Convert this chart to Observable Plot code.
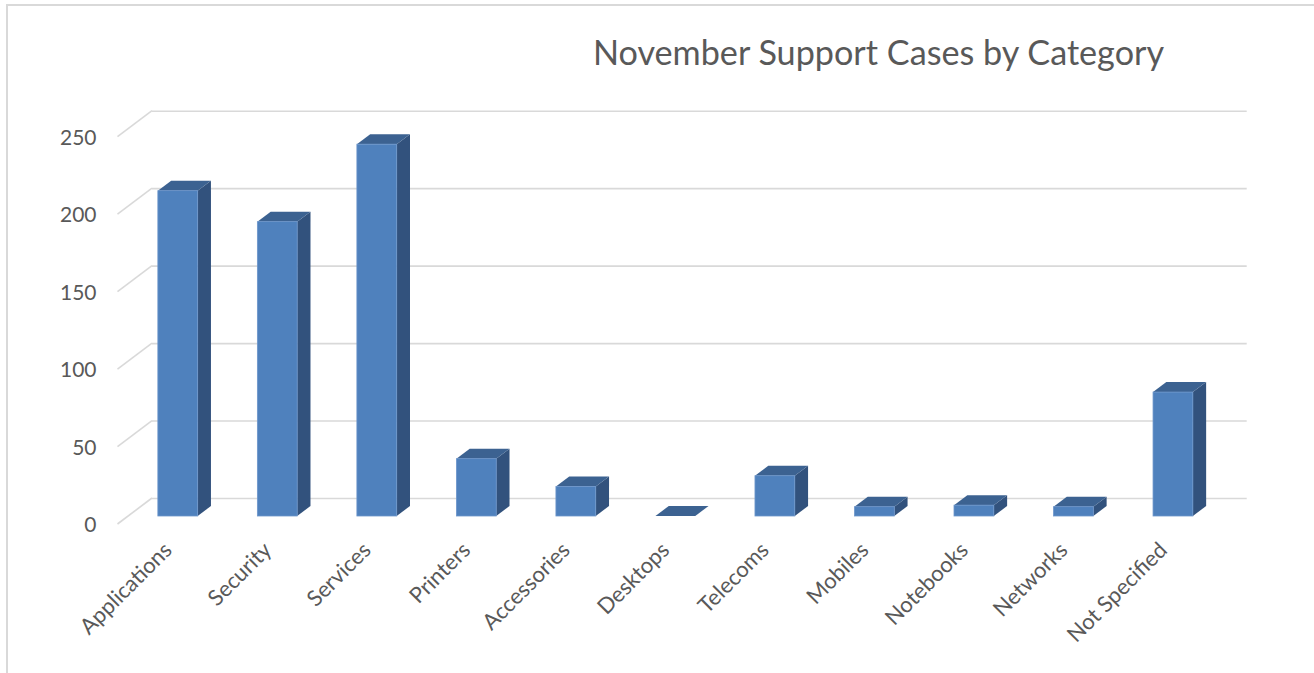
<!DOCTYPE html>
<html><head><meta charset="utf-8">
<script src="https://cdn.jsdelivr.net/npm/d3@7"></script>
<script src="https://cdn.jsdelivr.net/npm/@observablehq/plot@0.6"></script>
<style>
body{margin:0;background:#fff;overflow:hidden}
#wrap{position:relative;width:1314px;height:673px;overflow:hidden;font-family:Lato,"Open Sans",sans-serif}
#frame{position:absolute;left:6px;top:4px;width:1400px;height:800px;border-left:2px solid #d9d9d9;border-top:2px solid #d9d9d9;box-sizing:border-box}
#title{position:absolute;top:35px;left:878.5px;transform:translateX(-50%);white-space:nowrap;font-size:34.2px;line-height:34px;color:#595959;font-family:Lato,"Open Sans",sans-serif;font-weight:400}
#chart{position:absolute;left:0;top:0}
</style></head>
<body>
<div id="wrap"><div id="frame"></div><div id="chart"></div><div id="title">November Support Cases by Category</div></div>
<script>
const categories = ["Applications","Security","Services","Printers","Accessories","Desktops","Telecoms","Mobiles","Notebooks","Networks","Not Specified"];
const cases = [210,190,240,37,19,0,26,6,7,6,80];
const yTicks = [0,50,100,150,200,250];
const data = categories.map((c,i)=>({category:c, cases:cases[i]}));

// 3D styling offsets (pixels)
const DX = 13.3, DY = -10;        // bar depth
const WALL_X = 24, WALL_Y = -18;  // back wall offset from bar plane
const FRONT_X = -10.5, FRONT_Y = 8; // front floor edge offset

function floorSlants(index, scales, values, dimensions) {
  const y = scales.y, left = dimensions.marginLeft;
  const g = d3.create("svg:g");
  g.selectAll("line").data(yTicks).join("line")
    .attr("x1", left + FRONT_X).attr("y1", d => y(d) + FRONT_Y)
    .attr("x2", left + WALL_X).attr("y2", d => y(d) + WALL_Y)
    .attr("stroke", "#d9d9d9").attr("stroke-width", 1.6);
  return g.node();
}

function barDepth(index, scales) {
  const x = scales.x, y = scales.y, bw = x.bandwidth();
  const g = d3.create("svg:g");
  data.forEach(d => {
    const xl = x(d.category), xr = xl + bw, yt = y(d.cases), yb = y(0);
    g.append("path").attr("d", `M${xr},${yt}l${DX},${DY}V${yb+DY}L${xr},${yb}Z`).attr("fill", "#32527d");
    g.append("path").attr("d", `M${xl},${yt}l${DX},${DY}H${xr+DX}L${xr},${yt}Z`).attr("fill", "#3c6291");
  });
  return g.node();
}

const chart = Plot.plot({
  width: 1314, height: 673,
  marginLeft: 128, marginRight: 91.3, marginTop: 128.7, marginBottom: 157,
  x: {domain: categories, paddingInner: 0.6, paddingOuter: 0.3, round: false, label: null},
  y: {domain: [0, 250], label: null},
  style: {background: "transparent", color: "#595959", fontFamily: "Lato, 'Open Sans', sans-serif"},
  marks: [
    Plot.ruleY(yTicks, {dx: WALL_X, dy: WALL_Y, stroke: "#d9d9d9", strokeWidth: 1.6}),
    floorSlants,
    Plot.axisY({ticks: yTicks, tickSize: 0, tickPadding: 32, dy: 9, fontSize: 21, label: null}),
    Plot.axisX({tickSize: 0, tickRotate: -45, tickPadding: 30, dx: -10, fontSize: 22, label: null}),
    barDepth,
    Plot.barY(data, {x: "category", y: "cases", fill: "#4f81bd", stroke: "#6d96cb", strokeWidth: 0.8})
  ]
});
document.getElementById("chart").appendChild(chart);
</script>
</body></html>
